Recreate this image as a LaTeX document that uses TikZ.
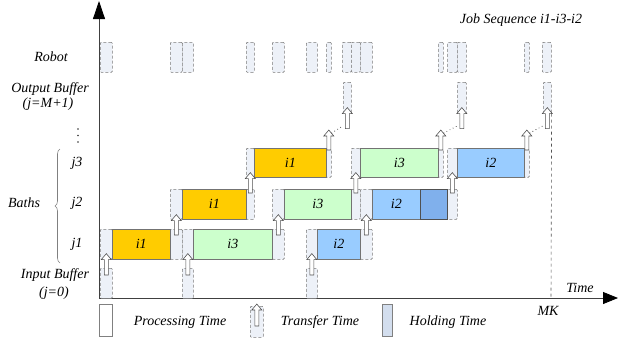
\documentclass[tikz,border=0pt]{standalone}
\usepackage{fontspec}
\setmainfont{Liberation Serif}
\newfontfamily\timesit[ItalicFont={Liberation Serif Italic}]{Liberation Serif}
\usetikzlibrary{arrows.meta,calc,decorations.pathreplacing}
\definecolor{axisgray}{HTML}{505050}
\definecolor{dashgray}{HTML}{7A7A7A}
\definecolor{tfill}{HTML}{EDF1F8}
\definecolor{yel}{HTML}{FFCC00}
\definecolor{grn}{HTML}{CCFFCC}
\definecolor{blu}{HTML}{99CCFF}
\definecolor{hold}{HTML}{80B0EC}
\definecolor{holdleg}{HTML}{D3DEEE}
\tikzset{
  lbl/.style={font=\timesit\fontsize{14}{16}\selectfont\itshape, inner sep=0pt},
  tbox/.style={draw=dashgray, densely dashed, fill=tfill, line width=0.6pt, rounded corners=1pt, inner sep=0pt},
  pbox/.style={draw=axisgray!80, line width=0.6pt, inner sep=0pt, font=\timesit\fontsize{14}{16}\selectfont\itshape},
  yelbox/.style={pbox, fill=yel},
  grnbox/.style={pbox, fill=grn},
  blubox/.style={pbox, fill=blu},
  holdbox/.style={pbox, fill=hold, draw=axisgray},
  barrowsty/.style={draw=axisgray, fill=white, line width=0.6pt},
  axis/.style={draw=black!75, line width=0.8pt},
  dotconn/.style={draw=black, line width=0.9pt, line cap=round, dash pattern=on 0pt off 3.5pt}
}
% box: name, x1, y1, x2, y2, style, text
\newcommand\gbox[7]{\node[#6, anchor=north west, minimum width={(#4-#2)*1pt}, minimum height={(#5-#3)*1pt}] (#1) at (#2,#3) {#7};}
% block arrow from coordinate #1 (bottom) to coordinate #2 (tip)
\newcommand\barrow[2]{\path #1 coordinate (baA) #2 coordinate (baB);
  \draw[barrowsty] let \p1=(baA), \p2=(baB) in
   ({\x1-2pt},\y1) -- ({\x1-2pt},{\y2-6pt}) -- ({\x1-5pt},{\y2-6pt}) -- (\x1,\y2)
   -- ({\x1+5pt},{\y2-6pt}) -- ({\x1+2pt},{\y2-6pt}) -- ({\x1+2pt},\y1) -- cycle;}
\begin{document}
\begin{tikzpicture}[x=1pt,y=-1pt]
\useasboundingbox (0,0) rectangle (618,338);

% ---------- axes
\coordinate (origin) at (99,298);
\coordinate (ytop) at (99,1);
\coordinate (xend) at (618,298);
\draw[axis, -{Triangle[length=18pt,width=12pt,color=black]}] (origin) -- (ytop);
\draw[axis, -{Triangle[length=15pt,width=12pt,color=black]}] (origin) -- (xend);

% ---------- row labels
\node[lbl] (lrobot) at (51,57) {Robot};
\node[lbl] (lout1) at (50,89) {Output Buffer};
\node[lbl] (lout2) at (48,104) {(j=M+1)};
\foreach \yy in {129,135.5,142} \fill[black!80] (78,\yy) circle (0.8pt);
\node[lbl] (lj3) at (77,163) {j3};
\node[lbl] (lj2) at (77,203) {j2};
\node[lbl] (lj1) at (77,244) {j1};
\node[lbl] (lbaths) at (24,203) {Baths};
\node[lbl] (lin1) at (55,275) {Input Buffer};
\node[lbl] (lin2) at (54,293) {(j=0)};
\draw[gray, line width=0.6pt, decorate, decoration={brace, amplitude=5pt}] (60,263) -- (60,149);
\node[lbl] (ljob) at (521,20) {Job Sequence i1-i3-i2};
\node[lbl] (ltime) at (580,288) {Time};
\node[lbl] (lmk) at (548,311) {MK};

% ---------- robot row
\foreach \a/\b [count=\k] in {100/112,170/182,182/193,246/254,272/284,306/317,326/331,342/351,351/360,360/372,438/443,447/457,457/466,524/529,542/551}
  {\gbox{r\k}{\a}{42}{\b}{72}{tbox}{}}

% ---------- input buffer
\gbox{in1}{100}{268}{112}{298}{tbox}{}
\gbox{in3}{182}{268}{193}{298}{tbox}{}
\gbox{in2}{306}{268}{317}{298}{tbox}{}

% ---------- bath j1
\gbox{ja1pre}{100}{229}{112}{259}{tbox}{}
\gbox{ja1post}{170}{229}{182}{259}{tbox}{}
\gbox{ja3pre}{182}{229}{193}{259}{tbox}{}
\gbox{ja3post}{272}{229}{284}{259}{tbox}{}
\gbox{ja2pre}{306}{229}{317}{259}{tbox}{}
\gbox{ja2post}{360}{229}{372}{259}{tbox}{}
\gbox{ja1}{112}{229}{170}{259}{yelbox}{i1}
\gbox{ja3}{193}{229}{272}{259}{grnbox}{i3}
\gbox{ja2}{317}{229}{360}{259}{blubox}{i2}

% ---------- bath j2
\gbox{jb1pre}{170}{189}{182}{219}{tbox}{}
\gbox{jb1post}{246}{189}{254}{219}{tbox}{}
\gbox{jb3pre}{272}{189}{284}{219}{tbox}{}
\gbox{jb3post}{351}{189}{360}{219}{tbox}{}
\gbox{jb2pre}{360}{189}{372}{219}{tbox}{}
\gbox{jb2post}{447}{189}{457}{219}{tbox}{}
\gbox{jb1}{182}{189}{246}{219}{yelbox}{i1}
\gbox{jb3}{284}{189}{351}{219}{grnbox}{i3}
\gbox{jb2}{372}{189}{420}{219}{blubox}{i2}
\gbox{jb2h}{420}{189}{447}{219}{holdbox}{}

% ---------- bath j3
\gbox{jc1pre}{246}{148}{254}{177}{tbox}{}
\gbox{jc1post}{326}{148}{331}{177}{tbox}{}
\gbox{jc3pre}{351}{148}{360}{177}{tbox}{}
\gbox{jc3post}{438}{148}{443}{177}{tbox}{}
\gbox{jc2pre}{447}{148}{457}{177}{tbox}{}
\gbox{jc2post}{524}{148}{529}{177}{tbox}{}
\gbox{jc1}{254}{148}{326}{177}{yelbox}{i1}
\gbox{jc3}{360}{148}{438}{177}{grnbox}{i3}
\gbox{jc2}{457}{148}{524}{177}{blubox}{i2}

% ---------- output buffer
\gbox{out1}{343}{82}{351}{113}{tbox}{}
\gbox{out3}{457}{82}{466}{113}{tbox}{}
\gbox{out2}{543}{82}{551}{113}{tbox}{}

% ---------- MK line
\coordinate (mkbot) at (551,298);
\draw[dashgray!70!black, dashed, line width=0.6pt] (out2.south east) -- (mkbot);

% ---------- transfer arrows input -> j1
\barrow{($(in1.north)+(0,7)$)}{($(ja1pre.south)+(0,-6)$)}
\barrow{($(in3.north)+(0,7)$)}{($(ja3pre.south)+(0,-6)$)}
\barrow{($(in2.north)+(0,7)$)}{($(ja2pre.south)+(0,-6)$)}
% j1 -> j2
\barrow{($(ja1post.north)+(0,6)$)}{($(jb1pre.south)+(0,-5)$)}
\barrow{($(ja3post.north)+(0,6)$)}{($(jb3pre.south)+(0,-5)$)}
\barrow{($(ja2post.north)+(0,6)$)}{($(jb2pre.south)+(0,-5)$)}
% j2 -> j3
\barrow{($(jb1post.north)+(0,4)$)}{($(jc1pre.south)+(0,-5)$)}
\barrow{($(jb3post.north)+(0,4)$)}{($(jc3pre.south)+(0,-5)$)}
\barrow{($(jb2post.north)+(0,4)$)}{($(jc2pre.south)+(0,-5)$)}
% j3 -> output
\foreach \j/\o in {jc1post/out1,jc3post/out3,jc2post/out2}{
  \coordinate (tA) at ($(\j.north)+(0,2)$);
  \coordinate (tB) at ($(\j.north)+(0,-18)$);
  \coordinate (tC) at ($(\o.south)+(0,15)$);
  \coordinate (tD) at ($(\o.south)+(0,-6)$);
  \barrow{(tA)}{(tB)}
  \barrow{(tC)}{(tD)}
  \draw[dotconn] ($(tB)+(3,3)$) -- ($(tC)+(-4,-3)$);
}

% ---------- legend
\gbox{legp}{99}{304}{112}{336}{pbox, fill=white, draw=gray}{}
\node[lbl] (legpt) at (180,322) {Processing Time};
\gbox{legt}{250}{306}{263}{337}{tbox}{}
\barrow{($(legt.north)+(0,20)$)}{($(legt.north)+(0,-2)$)}
\node[lbl] (legtt) at (320,322) {Transfer Time};
\gbox{legh}{382}{304}{392}{336}{pbox, fill=holdleg, draw=gray}{}
\node[lbl] (leght) at (448,322) {Holding Time};
\end{tikzpicture}
\end{document}
